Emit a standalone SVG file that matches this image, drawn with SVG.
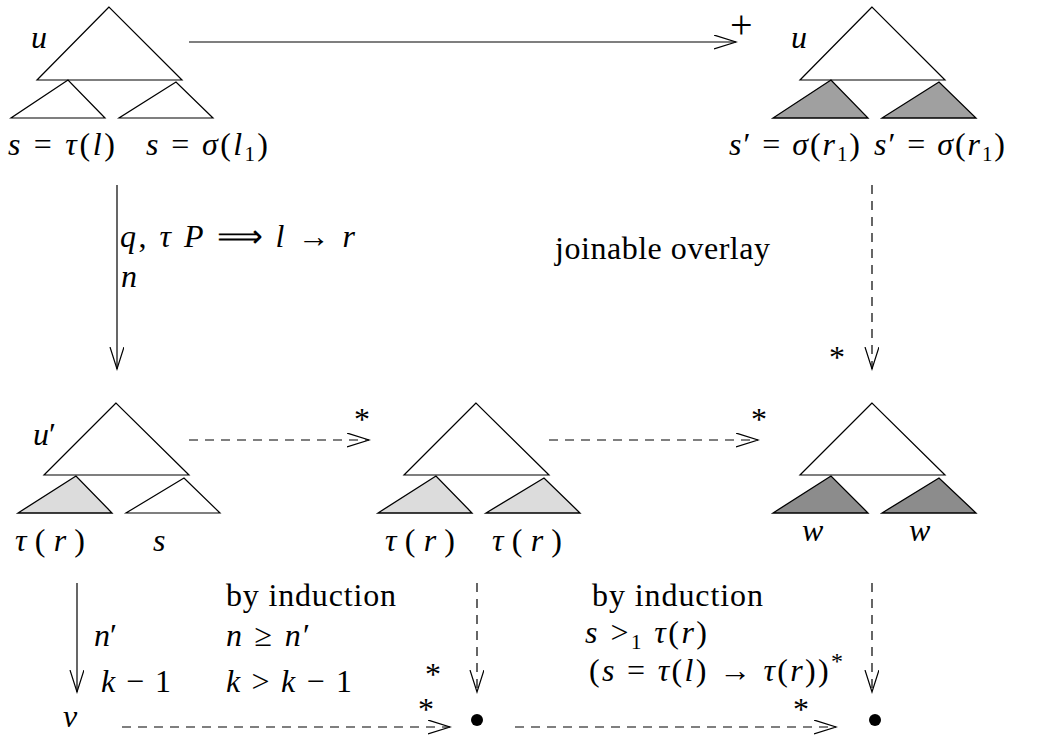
<svg xmlns="http://www.w3.org/2000/svg" width="1045" height="751" viewBox="0 0 1045 751">
<style>
.w{fill:#fff;stroke:#000;stroke-width:1.2}
.g1{fill:#a0a0a0;stroke:#000;stroke-width:1.3}
.g2{fill:#dcdcdc;stroke:#000;stroke-width:1.3}
.g3{fill:#8c8c8c;stroke:#000;stroke-width:1.3}
text{font-family:"Liberation Serif","Times New Roman",serif;font-size:32px;fill:#000}
.i{font-style:italic}
.s{stroke:#000;stroke-width:1.2;fill:none}
.d{stroke:#000;stroke-width:1.2;fill:none;stroke-dasharray:9 7}
</style>
<defs>
<marker id="ah" markerUnits="userSpaceOnUse" markerWidth="30" markerHeight="20" refX="22" refY="7" orient="auto" viewBox="0 0 30 20">
<path d="M0,0 L22,7 L0,14" fill="none" stroke="#000" stroke-width="1.2"/>
</marker>
</defs>

<g id="tree-top-left">
<polygon class="w" points="109,7 37,80 182,80"/>
<polygon class="w" points="68,80 11,118 105,118"/>
<polygon class="w" points="176,82 119,118 213,118"/>
<text x="31" y="48" class="i">u</text>
<text x="8" y="155" textLength="107" lengthAdjust="spacing"><tspan class="i">s</tspan> = <tspan class="i">τ</tspan>(<tspan class="i">l</tspan>)</text>
<text x="146" y="155" textLength="122" lengthAdjust="spacing"><tspan class="i">s</tspan> = <tspan class="i">σ</tspan>(<tspan class="i">l</tspan><tspan font-size="21" dy="6">1</tspan><tspan dy="-6">)</tspan></text>
</g>

<g id="tree-top-right">
<polygon class="w" points="872,7 800,80 945,80"/>
<polygon class="g1" points="831,80 773,118 868,118"/>
<polygon class="g1" points="939,82 882,118 976,118"/>
<text x="791" y="48" class="i">u</text>
<text x="729" y="155" textLength="131" lengthAdjust="spacing"><tspan class="i">s</tspan>′ = <tspan class="i">σ</tspan>(<tspan class="i">r</tspan><tspan font-size="21" dy="6">1</tspan><tspan dy="-6">)</tspan></text>
<text x="874" y="155" textLength="131" lengthAdjust="spacing"><tspan class="i">s</tspan>′ = <tspan class="i">σ</tspan>(<tspan class="i">r</tspan><tspan font-size="21" dy="6">1</tspan><tspan dy="-6">)</tspan></text>
</g>

<g id="tree-mid-left">
<polygon class="w" points="116,403 44,475 189,475"/>
<polygon class="g2" points="76,476 18,513 112,513"/>
<polygon class="w" points="184,478 126,513 220,513"/>
<text x="33" y="445"><tspan class="i">u</tspan>′</text>
<text x="15" y="551" textLength="70" lengthAdjust="spacing"><tspan class="i">τ</tspan>(<tspan class="i">r</tspan>)</text>
<text x="153" y="551" class="i">s</text>
</g>

<g id="tree-mid-center">
<polygon class="w" points="476,403 404,475 549,475"/>
<polygon class="g2" points="436,476 378,513 472,513"/>
<polygon class="g2" points="544,478 486,513 580,513"/>
<text x="385" y="551" textLength="70" lengthAdjust="spacing"><tspan class="i">τ</tspan>(<tspan class="i">r</tspan>)</text>
<text x="492" y="551" textLength="70" lengthAdjust="spacing"><tspan class="i">τ</tspan>(<tspan class="i">r</tspan>)</text>
</g>

<g id="tree-mid-right">
<polygon class="w" points="872,403 800,475 945,475"/>
<polygon class="g3" points="831,476 773,513 868,513"/>
<polygon class="g3" points="939,478 882,513 976,513"/>
<text x="802" y="541" class="i">w</text>
<text x="909" y="541" class="i">w</text>
</g>

<g id="node-v">
<text x="63" y="727" class="i">v</text>
</g>
<g id="node-dot1"><circle cx="477" cy="720" r="6" fill="#000"/></g>
<g id="node-dot2"><circle cx="875" cy="720" r="6" fill="#000"/></g>

<g id="connectors">
<line class="s" x1="189" y1="42" x2="736" y2="42" marker-end="url(#ah)"/>
<text x="730" y="38" style="font-size:40px">+</text>

<line class="s" x1="117" y1="185" x2="117" y2="369" marker-end="url(#ah)"/>
<text x="120" y="247" textLength="235" lengthAdjust="spacing"><tspan class="i">q</tspan>, <tspan class="i">τ P</tspan> ⟹ <tspan class="i">l</tspan> → <tspan class="i">r</tspan></text>
<text x="121" y="287" class="i">n</text>

<line class="d" x1="872" y1="185" x2="872" y2="369" marker-end="url(#ah)"/>
<text x="829" y="368">*</text>
<text x="555" y="259" textLength="215" lengthAdjust="spacing">joinable overlay</text>

<line class="d" x1="189" y1="440" x2="369" y2="440" marker-end="url(#ah)"/>
<text x="354" y="430">*</text>
<line class="d" x1="549" y1="440" x2="758" y2="440" marker-end="url(#ah)"/>
<text x="751" y="430">*</text>

<line class="s" x1="77" y1="583" x2="77" y2="692" marker-end="url(#ah)"/>
<text x="94" y="646"><tspan class="i">n</tspan>′</text>
<text x="101" y="692" textLength="70" lengthAdjust="spacing"><tspan class="i">k</tspan> − 1</text>
<text x="226" y="606" textLength="170" lengthAdjust="spacing">by induction</text>
<text x="226" y="646" textLength="84" lengthAdjust="spacing"><tspan class="i">n</tspan> ≥ <tspan class="i">n</tspan>′</text>
<text x="226" y="692" textLength="126" lengthAdjust="spacing"><tspan class="i">k</tspan> &gt; <tspan class="i">k</tspan> − 1</text>

<line class="d" x1="477" y1="583" x2="477" y2="692" marker-end="url(#ah)"/>
<text x="425" y="685">*</text>
<line class="d" x1="122" y1="727" x2="450" y2="727" marker-end="url(#ah)"/>
<text x="418" y="720">*</text>

<text x="592" y="606" textLength="171" lengthAdjust="spacing">by induction</text>
<text x="585" y="643" textLength="122" lengthAdjust="spacing"><tspan class="i">s</tspan> &gt;<tspan font-size="21" dy="6">1</tspan><tspan dy="-6"> </tspan><tspan class="i">τ</tspan>(<tspan class="i">r</tspan>)</text>
<text x="589" y="681" textLength="254" lengthAdjust="spacing">(<tspan class="i">s</tspan> = <tspan class="i">τ</tspan>(<tspan class="i">l</tspan>) → <tspan class="i">τ</tspan>(<tspan class="i">r</tspan>))<tspan font-size="24" dy="-12">*</tspan></text>

<line class="d" x1="872" y1="583" x2="872" y2="692" marker-end="url(#ah)"/>
<line class="d" x1="515" y1="727" x2="836" y2="727" marker-end="url(#ah)"/>
<text x="793" y="720">*</text>
</g>
</svg>
